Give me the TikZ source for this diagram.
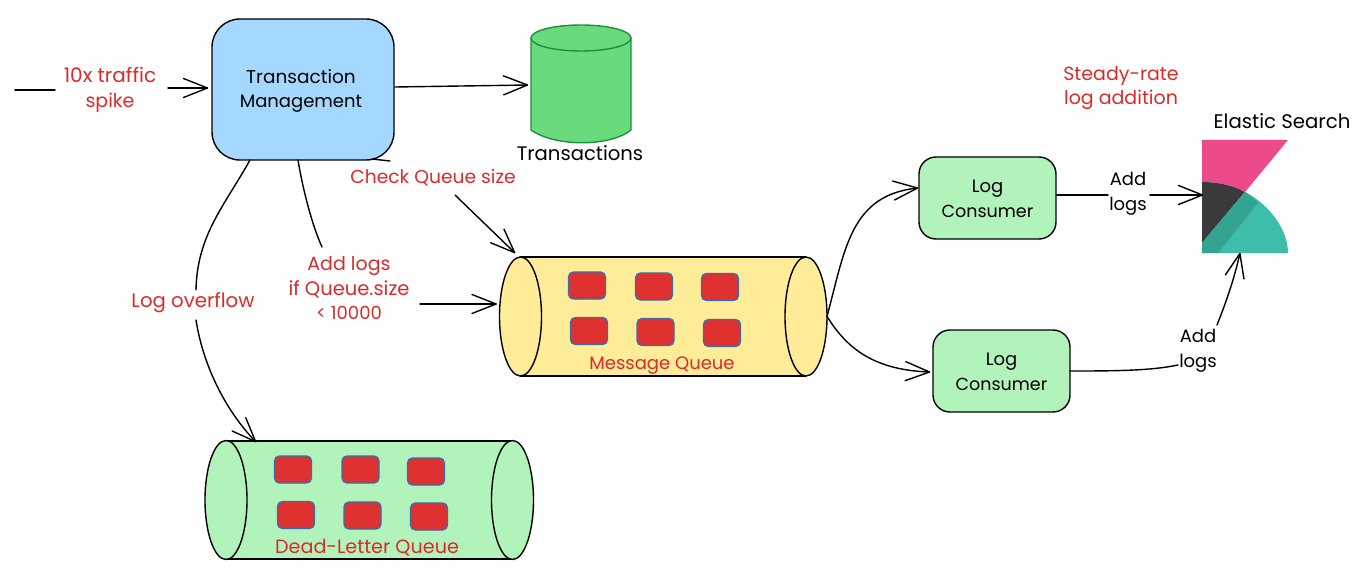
\documentclass[tikz,border=0pt]{standalone}
\usepackage{fontspec}
\setmainfont{Poppins}
\usetikzlibrary{arrows.meta,shapes.geometric,calc}
\definecolor{redtxt}{HTML}{D92B2B}
\definecolor{blueb}{HTML}{A5D8FF}
\definecolor{greenb}{HTML}{B2F2BB}
\definecolor{dbgreen}{HTML}{69DB7C}
\definecolor{dbedge}{HTML}{1F8F3F}
\definecolor{yellowb}{HTML}{FFEC99}
\definecolor{slotred}{HTML}{E03131}
\definecolor{slotedge}{HTML}{3A6EA5}
\definecolor{kpink}{HTML}{EC4A8B}
\definecolor{kdark}{HTML}{3A3A3C}
\definecolor{kteal}{HTML}{3EBDAB}
\definecolor{kband}{HTML}{33A48F}
\newcommand{\szt}[2]{{\fontsize{#1}{24}\selectfont #2}}
\pgfarrowsdeclare{stick}{stick}{\pgfarrowsleftextend{-24pt}\pgfarrowsrightextend{0.5pt}}{%
  \pgfsetroundcap\pgfsetroundjoin\pgfsetlinewidth{1.4pt}\pgfsetdash{}{0pt}%
  \pgfpathmoveto{\pgfpoint{-24pt}{9.5pt}}\pgfpathlineto{\pgfpointorigin}\pgfpathlineto{\pgfpoint{-24pt}{-9.5pt}}\pgfusepathqstroke}
\tikzset{
  every node/.style={font=\fontsize{18}{24.5}\selectfont, align=center, inner sep=0pt, outer sep=0pt},
  lbl/.style={text=redtxt},
  blk/.style={text=black},
  line/.style={draw=black, line width=1.4pt, line cap=round},
  arr/.style={line, -stick},
  box/.style={draw=black, line width=1.4pt},
  capend/.style={ellipse, draw=black, line width=1.4pt, minimum width=42pt, minimum height=119pt},
  slot/.style={draw=slotedge, line width=1.4pt, fill=slotred, rounded corners=5pt, minimum width=37pt, minimum height=27pt},
}
\begin{document}
\begin{tikzpicture}[x=1pt,y=-1pt]
\useasboundingbox (0,0) rectangle (1358,575);
% main boxes
\node[box, fill=blueb, rounded corners=28pt, minimum width=182pt, minimum height=141pt] (tm) at (303,89.5) {};
\node[blk] at (301,91) {\szt{18.5}{Transaction}\\Management};
\node[box, fill=greenb, rounded corners=17pt, minimum width=137pt, minimum height=82pt] (lc1) at (987.5,198) {};
\node[blk] at (987.5,199) {Log\\\szt{17.5}{Consumer}};
\node[box, fill=greenb, rounded corners=17pt, minimum width=137pt, minimum height=82pt] (lc2) at (1001.5,371) {};
\node[blk] at (1001.5,372) {Log\\\szt{17.5}{Consumer}};
% database
\node[minimum width=100pt, minimum height=116pt] (db) at (581,84) {};
\fill[dbgreen] (531,38) -- (531,130) .. controls (555,147) and (610,147) .. (631,130) -- (631,38) -- cycle;
\draw[line, draw=dbedge] (531,38) -- (531,130) .. controls (555,147) and (610,147) .. (631,130) -- (631,38);
\draw[line, draw=dbedge, fill=dbgreen] (581,38) ellipse[x radius=50,y radius=13];
\node[blk] at (580,153) {\szt{19.6}{Transactions}};
% message queue
\fill[yellowb] (520,257) rectangle (806,376);
\draw[line] (520,257) -- (806,257) (520,376) -- (806,376);
\node[capend, fill=yellowb] (mqL) at (520.5,316.5) {};
\node[capend, fill=yellowb] (mqR) at (806,316.5) {};
\node[slot] at (587,285.5) {};
\node[slot] at (654,286.5) {};
\node[slot] at (720,287) {};
\node[slot] at (589,331) {};
\node[slot] at (655.5,332) {};
\node[slot] at (722,333) {};
\node[lbl] at (662,366) {Message Queue};
% dead-letter queue
\fill[greenb] (226,441) rectangle (512,559);
\draw[line] (226,441) -- (512,441) (226,559) -- (512,559);
\node[capend, fill=greenb] (dlL) at (226,500) {};
\node[capend, fill=greenb] (dlR) at (512.5,500) {};
\node[slot] at (293,469.5) {};
\node[slot] at (360.5,469.5) {};
\node[slot] at (426,471.5) {};
\node[slot] at (296,515) {};
\node[slot] at (362.5,515.5) {};
\node[slot] at (429,516.5) {};
\node[lbl] at (367,548) {\szt{19.2}{Dead-Letter Queue}};
% Kibana logo
\node[minimum width=86pt, minimum height=113pt] (es) at (1245,196.5) {};
\fill[kpink] (1202,140) -- (1288,140) -- (1245,192) .. controls (1232,185) and (1217,182) .. (1202,182) -- cycle;
\fill[kdark] (1202,182) .. controls (1217,182) and (1232,185) .. (1245,192) -- (1202,243) -- cycle;
\fill[kteal] (1245,192) .. controls (1270,205) and (1288,230) .. (1288,253) -- (1202,253) -- (1202,243) -- cycle;
\fill[kband] (1245,192) .. controls (1250,195) and (1254,198) .. (1258,203) -- (1218,253) -- (1202,253) -- (1202,243) -- cycle;
\node[blk] at (1282,121) {\szt{19.7}{Elastic Search}};
% labels
\node[lbl] (spike) at (110,90) {\szt{20}{10x traffic}\\\szt{19}{spike}};
\node[lbl] (check) at (433,178) {\szt{18.7}{Check Queue size}};
\node[lbl] (addq) at (349,288) {\szt{19}{Add logs}\\\szt{19.5}{if Queue.size}\\< 10000};
\node[lbl] (over) at (193,303) {\szt{19.7}{Log overflow}};
\node[lbl] at (1121,88) {\szt{19}{Steady-rate}\\\szt{19}{log addition}};
\node[blk] (add1) at (1128,194) {Add\\logs};
\node[blk] (add2) at (1198,351) {Add\\logs};
% connectors
\coordinate (start) at (15,90);
\draw[line] (start) -- ($(spike)+(-55,0)$);
\draw[arr] ($(spike)+(58,-2)$) -- ($(tm.west)+(-4,-1.5)$);
\draw[arr] ($(tm.east)+(1,-2.5)$) -- ($(db.west)+(-3,1)$);
\draw[line] ($(tm.south)+(69,-1)$) -- ($(check)+(-43,-17)$);
\draw[arr] ($(check)+(22,17)$) -- ($(mqL)+(-5.5,-63.5)$);
\draw[line] ($(tm.south)+(-5,0)$) .. controls (303,190) and (312,225) .. ($(addq)+(-27,-41)$);
\draw[arr] ($(addq)+(71,16)$) -- ($(mqL.west)+(-3,-12.5)$);
\draw[line] ($(tm.south)+(-53,0)$) .. controls (225,205) and (197,235) .. ($(over)+(3,-13)$);
\draw[arr] ($(over)+(3,17)$) .. controls (203,365) and (225,410) .. ($(dlL)+(30,-58)$);
\draw[arr] (mqR.east) .. controls (845,250) and (850,195) .. ($(lc1.west)+(-1,-10)$);
\draw[arr] (mqR.east) .. controls (845,345) and (870,370) .. ($(lc2.west)+(-3,1)$);
\draw[line] ($(lc1.east)+(1,-3)$) -- ($(add1)+(-20,1)$);
\draw[arr] ($(add1)+(22,1)$) -- ($(es.west)+(1,-1.5)$);
\draw[line] (lc2.east) .. controls (1110,371) and (1150,371) .. ($(add2)+(-20,14)$);
\draw[arr] ($(add2)+(19,-26)$) .. controls (1225,305) and (1234,280) .. ($(es.south)+(-5,0)$);
\end{tikzpicture}
\end{document}
